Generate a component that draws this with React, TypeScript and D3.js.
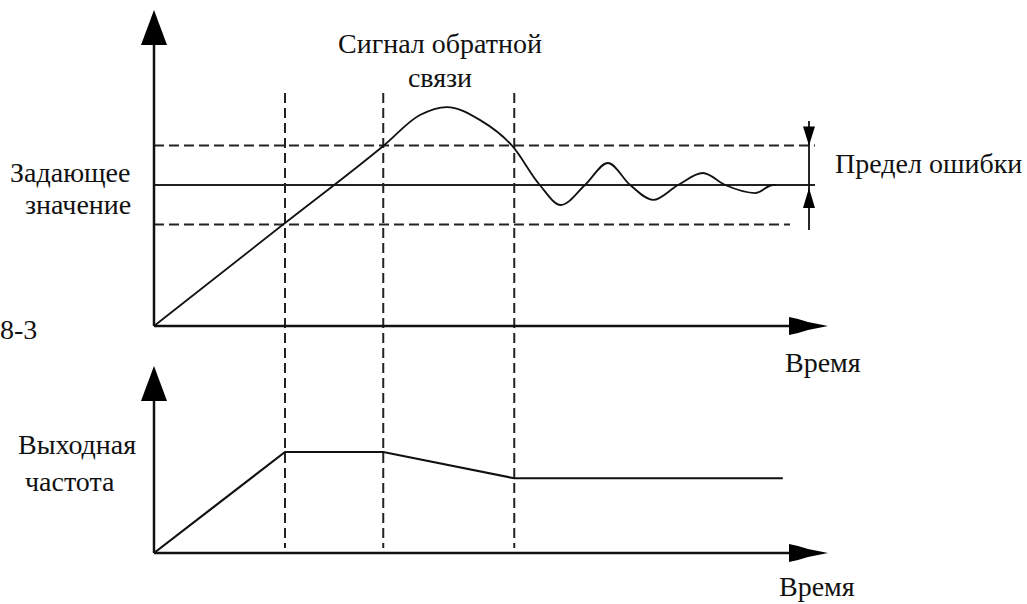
import React from 'react';
import * as d3 from 'd3';

// Feedback signal (top chart), time in arbitrary units, value in % of setpoint
const signalTime = [0, 20, 35, 40.6, 44.7, 49.8, 54.7, 58.9, 62.1, 65.8, 69.3, 72.7, 76.2, 80, 83.8, 87.2, 91.8, 94.5, 95];
const signalValue = [0, 73, 127.7, 149.6, 155.3, 146, 127.7, 100, 85.8, 100, 115.6, 100, 89.4, 100, 108.5, 100, 94.3, 100, 100];
// Output frequency (bottom chart)
const freqTime = [0, 20, 35, 55, 96];
const freqValue = [0, 100, 100, 74, 74];
// Vertical dashed markers
const markerTimes = [20, 35, 55];
const setpoint = 100;
const errorBand = 28;

const titleLines = ['Сигнал обратной', 'связи'];
const setpointLines = ['Задающее', 'значение'];
const freqLines = ['Выходная', 'частота'];
const errorLabel = 'Предел ошибки';
const timeLabel = 'Время';
const figLabel = '8-3';

const FONT = '"Liberation Serif", "Times New Roman", serif';

export default function App() {
  const x = d3.scaleLinear().domain([0, 100]).range([154, 809]);
  const yTop = d3.scaleLinear().domain([0, 100]).range([326, 185]);
  const yBot = d3.scaleLinear().domain([0, 100]).range([553, 452]);

  const sigLine = d3
    .line<number>()
    .x((_, i) => x(signalTime[i]))
    .y((v) => yTop(v))
    .curve(d3.curveMonotoneX);
  const freqLine = d3
    .line<number>()
    .x((_, i) => x(freqTime[i]))
    .y((v) => yBot(v))
    .curve(d3.curveLinear);

  const x0 = x(0);
  const topAxisY = yTop(0);
  const botAxisY = yBot(0);

  const vArrow = (cx: number, tip: number) =>
    `${cx},${tip} ${cx + 13},${tip + 35} ${cx - 13},${tip + 35}`;
  const hArrow = (sx: number, cy: number) =>
    `${sx},${cy - 9} ${sx + 9},${cy - 7} ${sx + 19},${cy - 4} ${sx + 39},${cy} ${sx + 19},${cy + 4} ${sx + 9},${cy + 7} ${sx},${cy + 9}`;

  const ex = x(100);
  const yUp = yTop(setpoint + errorBand);
  const yLo = yTop(setpoint - errorBand);
  const ySet = yTop(setpoint);

  const textStyle = { fontFamily: FONT, fontSize: 28, fill: '#111' } as const;

  return (
    <svg width={1027} height={604} style={{ position: 'absolute', left: 0, top: 0, background: '#fff' }}>
      {/* band lines */}
      <line x1={x0} x2={815} y1={yUp} y2={yUp} stroke="#222" strokeWidth={2} strokeDasharray="10,5" />
      <line x1={x0} x2={790} y1={yLo} y2={yLo} stroke="#222" strokeWidth={2} strokeDasharray="10,5" />
      <line x1={x0} x2={815} y1={ySet} y2={ySet} stroke="#222" strokeWidth={2} />

      {/* vertical markers */}
      {markerTimes.map((t) => (
        <line key={t} x1={x(t)} x2={x(t)} y1={93} y2={548} stroke="#222" strokeWidth={2} strokeDasharray="10,5" />
      ))}

      {/* top axes */}
      <line x1={x0} x2={x0} y1={40} y2={topAxisY} stroke="#111" strokeWidth={2.5} />
      <polygon points={vArrow(x0, 10)} fill="#000" />
      <line x1={x0} x2={795} y1={topAxisY} y2={topAxisY} stroke="#111" strokeWidth={2.5} />
      <polygon points={hArrow(789, topAxisY)} fill="#000" />

      {/* bottom axes */}
      <line x1={x0} x2={x0} y1={395} y2={botAxisY} stroke="#111" strokeWidth={2.5} />
      <polygon points={vArrow(x0, 366)} fill="#000" />
      <line x1={x0} x2={795} y1={botAxisY} y2={botAxisY} stroke="#111" strokeWidth={2.5} />
      <polygon points={hArrow(789, botAxisY)} fill="#000" />

      {/* curves */}
      <path d={sigLine(signalValue) || ''} fill="none" stroke="#111" strokeWidth={1.8} />
      <path d={freqLine(freqValue) || ''} fill="none" stroke="#111" strokeWidth={2.2} />

      {/* error limit indicator */}
      <line x1={ex} x2={ex} y1={121} y2={230} stroke="#111" strokeWidth={1.8} />
      <polygon points={`${ex - 6},${yUp - 19} ${ex + 6},${yUp - 19} ${ex},${yUp}`} fill="#000" />
      <polygon points={`${ex},${ySet + 3} ${ex + 6},${ySet + 23} ${ex - 6},${ySet + 23}`} fill="#000" />

      {/* texts */}
      <text x={440} y={53} textAnchor="middle" style={textStyle}>{titleLines[0]}</text>
      <text x={440} y={87} textAnchor="middle" style={textStyle}>{titleLines[1]}</text>
      <text x={10} y={182} style={textStyle}>{setpointLines[0]}</text>
      <text x={25} y={214} style={textStyle}>{setpointLines[1]}</text>
      <text x={835} y={173} style={textStyle}>{errorLabel}</text>
      <text x={0} y={339} style={textStyle}>{figLabel}</text>
      <text x={785} y={372} style={textStyle}>{timeLabel}</text>
      <text x={18} y={454} style={textStyle}>{freqLines[0]}</text>
      <text x={25} y={491} style={textStyle}>{freqLines[1]}</text>
      <text x={779} y={596} style={textStyle}>{timeLabel}</text>
    </svg>
  );
}
